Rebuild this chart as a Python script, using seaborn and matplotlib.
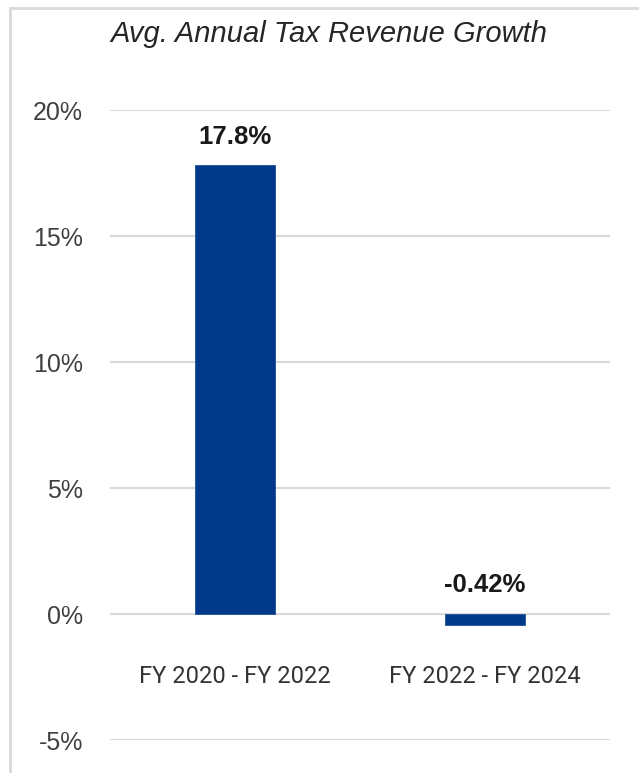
import matplotlib
matplotlib.use("Agg")
import matplotlib.pyplot as plt
import seaborn as sns
import pandas as pd
from matplotlib.patches import Rectangle

categories = ["FY 2020 - FY 2022", "FY 2022 - FY 2024"]
values = [17.8, -0.42]
value_labels = ["17.8%", "-0.42%"]
yticks = [-5, 0, 5, 10, 15, 20]
ytick_labels = ["-5%", "0%", "5%", "10%", "15%", "20%"]
title = "Avg. Annual Tax Revenue Growth"

sns.set_theme(style="white")
plt.rcParams['font.family'] = ['Liberation Sans', 'DejaVu Sans']

W, H = 639, 773
fig = plt.figure(figsize=(W / 100, H / 100), dpi=100)
ax = fig.add_axes([110 / W, (H - 740) / H, 500 / W, 630 / H])

df = pd.DataFrame({"cat": categories, "val": values})
sns.barplot(data=df, x="cat", y="val", color="#00388a", width=0.32,
            saturation=1, ax=ax, zorder=3, edgecolor="#1f4f9a", linewidth=0.6)

ax.set_ylim(-5, 20)
ax.set_xlim(-0.5, 1.5)
ax.set_yticks(yticks)
ax.set_yticklabels(ytick_labels, fontsize=18, color="#404040")
ax.tick_params(axis="y", length=0, pad=19.4)
ax.tick_params(axis="x", length=0, pad=0)
ax.set_xticks([])
ax.set_xlabel("")
ax.set_ylabel("")
ax.grid(axis="y", color="#d9d9d9", linewidth=1.5, zorder=0)
for s in ax.spines.values():
    s.set_visible(False)

for i, (v, lab) in enumerate(zip(values, value_labels)):
    ax.annotate(lab, xy=(i, max(v, 0)), xytext=(0, 21.5), textcoords="offset pixels",
                ha="center", va="baseline", fontsize=18.5, fontweight="bold", color="#1a1a1a")
    ax.annotate(categories[i], xy=(i, 0), xytext=(0, -69), textcoords="offset pixels",
                ha="center", va="baseline", fontsize=17, color="#333333",
                family=["Roboto", "DejaVu Sans"])

fig.text(329 / W, 1 - 42 / H, title, ha="center", va="baseline", fontsize=21,
         style="italic", color="#262626")

fig.patches.append(Rectangle((10 / W, -0.1), 1.2, 1 - 7.5 / H + 0.1, transform=fig.transFigure,
                             fill=False, edgecolor="#d9d9d9", linewidth=2))

fig.savefig("out.png", dpi=100)
